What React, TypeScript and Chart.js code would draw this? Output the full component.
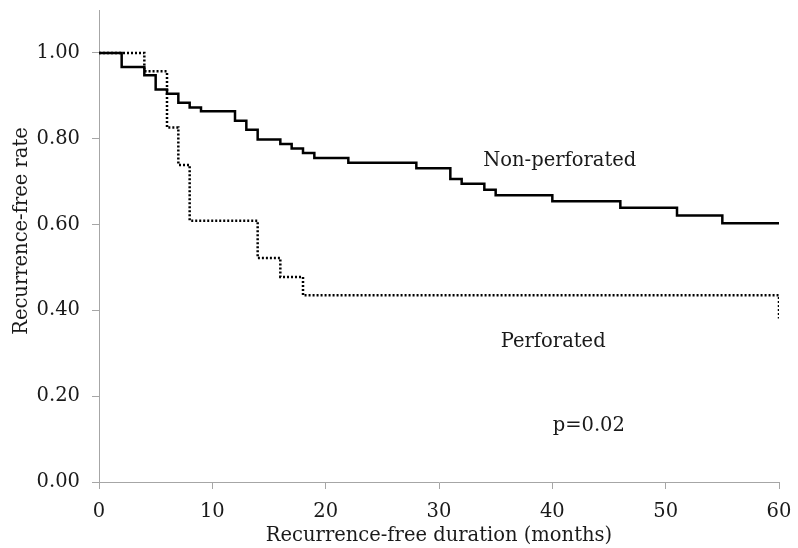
import React, { useEffect, useRef } from "react";
import { Chart, registerables } from "chart.js";

Chart.register(...registerables);

// Non-perforated (solid) Kaplan-Meier steps: month and survival after the step
const nonPerfMonths = [0, 2, 4, 5, 6, 7, 8, 9, 12, 13, 14, 16, 17, 18, 19, 22, 28, 31, 32, 34, 35, 40, 46, 51, 55, 60];
const nonPerfRates = [1.0, 0.967, 0.948, 0.915, 0.905, 0.884, 0.873, 0.864, 0.842, 0.821, 0.798, 0.788, 0.777, 0.767, 0.755, 0.744, 0.731, 0.706, 0.695, 0.681, 0.668, 0.654, 0.639, 0.621, 0.603, 0.603];

// Perforated (dotted)
const perfMonths = [0, 4, 6, 7, 8, 14, 16, 18, 60];
const perfRates = [1.0, 0.957, 0.826, 0.739, 0.609, 0.522, 0.478, 0.435, 0.381];

const xTicks = [0, 10, 20, 30, 40, 50, 60];
const yTicks = [0, 0.2, 0.4, 0.6, 0.8, 1.0];

const annotations = [
  { text: "Non-perforated", x: 33.9, y: 0.737 },
  { text: "Perforated", x: 35.45, y: 0.315 },
  { text: "p=0.02", x: 40.03, y: 0.119 },
];

const yTitle = "Recurrence-free rate";
const xTitle = "Recurrence-free duration (months)";

const FONT = "'DejaVu Serif', serif";
const SIZE = 19.5;
const TEXT = "#1a1a1a";
const AXIS = "#a6a6a6";

export default function App() {
  const ref = useRef<HTMLCanvasElement>(null);
  useEffect(() => {
    if (!ref.current) return;
    const textPlugin = {
      id: "textAnn",
      afterDatasetsDraw(chart: any) {
        const { ctx, scales } = chart;
        ctx.save();
        ctx.font = `${SIZE}px ${FONT}`;
        ctx.fillStyle = TEXT;
        ctx.textAlign = "left";
        ctx.textBaseline = "alphabetic";
        for (const a of annotations) {
          ctx.fillText(a.text, scales.x.getPixelForValue(a.x), scales.y.getPixelForValue(a.y));
        }
        // y axis title
        ctx.save();
        ctx.translate(22, scales.y.getPixelForValue(0.585));
        ctx.rotate(-Math.PI / 2);
        ctx.textAlign = "center";
        ctx.textBaseline = "middle";
        ctx.fillText(yTitle, 0, 0);
        ctx.restore();
        ctx.restore();
      },
    };
    const chart = new Chart(ref.current, {
      type: "line",
      data: {
        datasets: [
          {
            label: "Non-perforated",
            data: nonPerfMonths.map((m, i) => ({ x: m, y: nonPerfRates[i] })),
            borderColor: "#000",
            borderWidth: 2.5,
            stepped: "before",
            pointRadius: 0,
            fill: false,
          },
          {
            label: "Perforated",
            data: perfMonths.map((m, i) => ({ x: m, y: perfRates[i] })),
            borderColor: "#000",
            borderWidth: 2.5,
            borderDash: [2, 2],
            stepped: "before",
            pointRadius: 0,
            fill: false,
          },
        ],
      },
      options: {
        animation: false,
        responsive: false,
        maintainAspectRatio: false,
        layout: { padding: { left: 0, right: 19, top: 10, bottom: 0 } },
        plugins: { legend: { display: false }, tooltip: { enabled: false } },
        scales: {
          x: {
            type: "linear",
            min: 0,
            max: 60,
            afterBuildTicks: (s: any) => {
              s.ticks = xTicks.map((v) => ({ value: v }));
            },
            afterFit: (s: any) => {
              s.height = 66;
              s.paddingLeft = 0;
              s.paddingRight = 0;
            },
            border: { display: true, color: AXIS, width: 1 },
            grid: { drawOnChartArea: false, drawTicks: true, tickLength: 7, color: AXIS },
            ticks: { color: TEXT, font: { family: FONT, size: SIZE }, padding: 11, maxRotation: 0 },
            title: {
              display: true,
              text: xTitle,
              color: TEXT,
              font: { family: FONT, size: SIZE },
              padding: { top: 0, bottom: 0 },
            },
          },
          y: {
            type: "linear",
            min: 0,
            max: 1.1,
            afterBuildTicks: (s: any) => {
              s.ticks = yTicks.map((v) => ({ value: v }));
            },
            afterFit: (s: any) => {
              s.width = 99;
              s.paddingTop = 0;
              s.paddingBottom = 0;
            },
            border: { display: true, color: AXIS, width: 1 },
            grid: { drawOnChartArea: false, drawTicks: true, tickLength: 7, color: AXIS },
            ticks: {
              color: TEXT,
              font: { family: FONT, size: SIZE },
              padding: 12,
              callback: (v: any) => Number(v).toFixed(2),
            },
            title: { display: false },
          },
        },
      },
      plugins: [textPlugin],
    });
    return () => chart.destroy();
  }, []);
  return (
    <div style={{ position: "fixed", left: 0, top: 0, width: 798, height: 548, background: "#fff" }}>
      <canvas ref={ref} width={798} height={548} style={{ width: 798, height: 548 }} />
    </div>
  );
}
